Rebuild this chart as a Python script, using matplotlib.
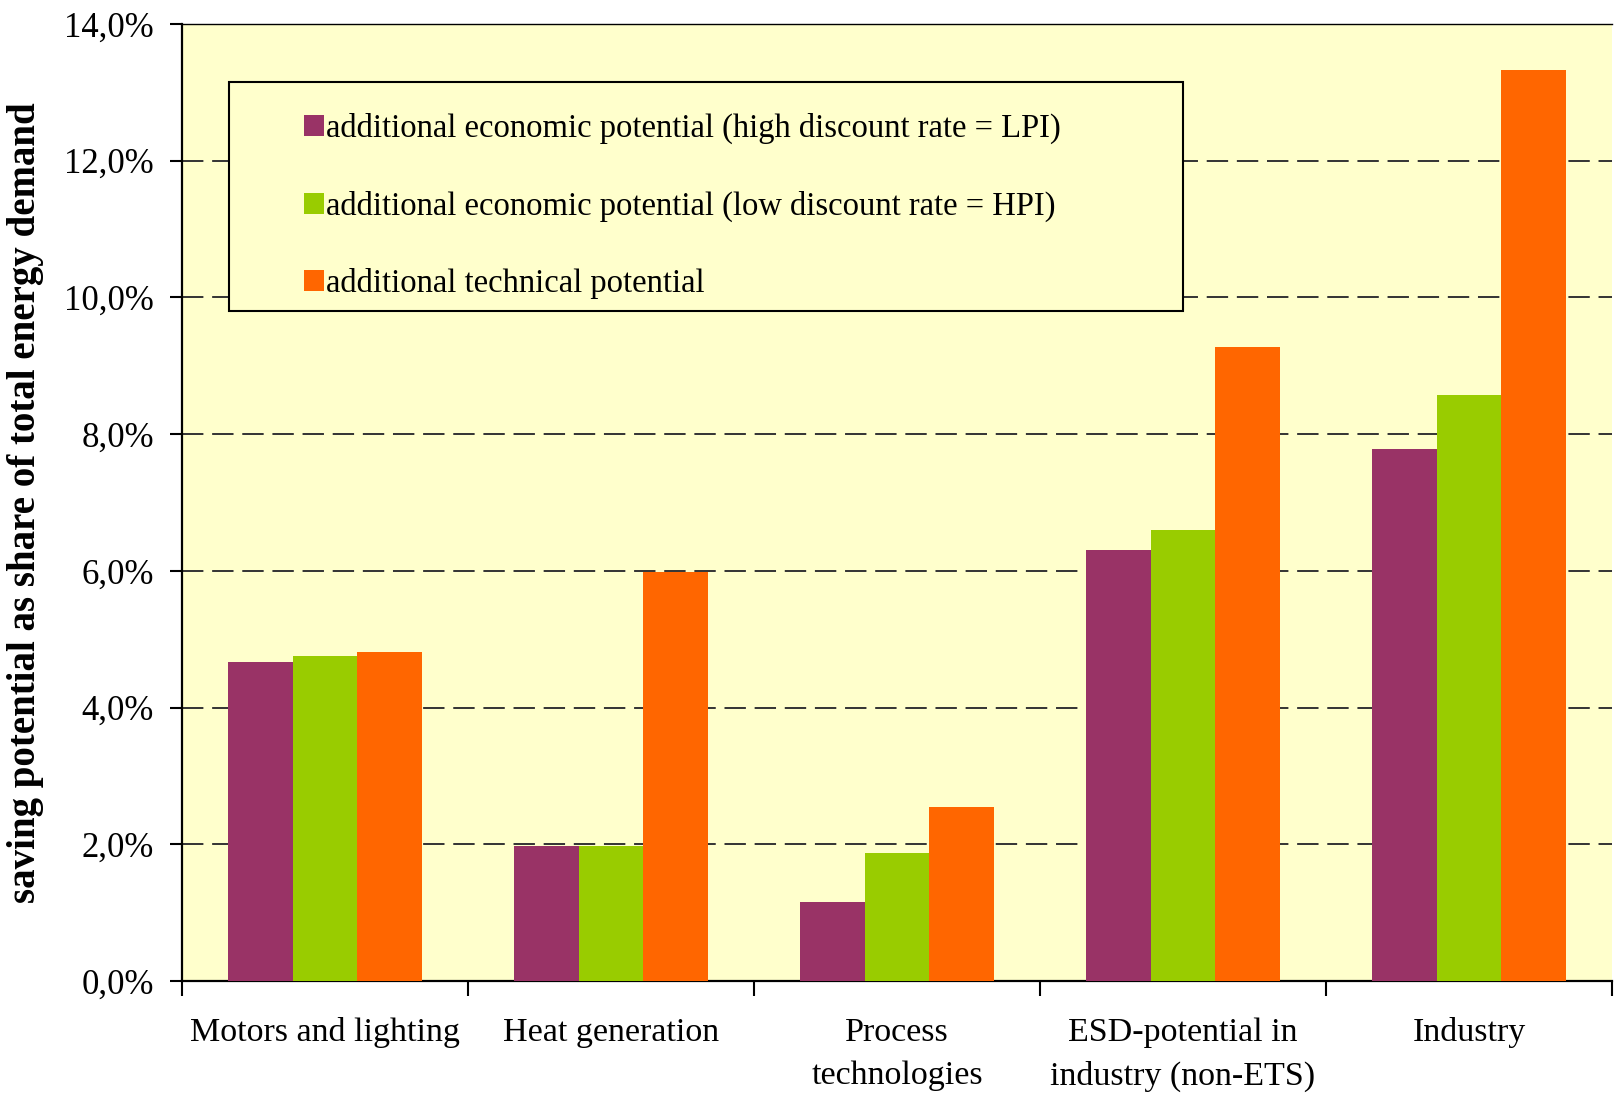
import matplotlib
matplotlib.use("Agg")
import matplotlib.pyplot as plt
from matplotlib.patches import Rectangle
import numpy as np

plt.rcParams['font.family'] = ['Liberation Serif', 'DejaVu Serif']

categories = ["Motors and lighting", "Heat generation", "Process\ntechnologies",
              "ESD-potential in\nindustry (non-ETS)", "Industry"]
series_names = ["additional economic potential (high discount rate = LPI)",
                "additional economic potential (low discount rate = HPI)",
                "additional technical potential"]
lpi = [4.67, 1.98, 1.16, 6.30, 7.78]
hpi = [4.75, 1.97, 1.87, 6.60, 8.57]
technical = [4.82, 5.99, 2.55, 9.27, 13.32]
yticks = [0, 2, 4, 6, 8, 10, 12, 14]

colors = ["#993366", "#99CC00", "#FF6600"]

fig = plt.figure(figsize=(16.14, 10.94), dpi=100)
ax = fig.add_axes([182 / 1614, 1 - 981 / 1094, 1430 / 1614, 957 / 1094])
ax.set_facecolor("#FFFFCC")

x = np.arange(len(categories))
w = 0.225
handles = []
for i, (vals, c) in enumerate(zip([lpi, hpi, technical], colors)):
    b = ax.bar(x + (i - 1) * w, vals, width=w, color=c, zorder=3)
    handles.append(b)

ax.set_xlim(-0.5, len(categories) - 0.5)
ax.set_ylim(0, 14)

# y axis: comma decimals, dashed grid
ax.set_yticks(yticks)
ax.set_yticklabels([f"{v:.1f}%".replace(".", ",") for v in yticks], fontsize=25)
for v in yticks[1:-1]:
    ax.axhline(v, color="#333333", lw=1.4, ls=(0, (11, 4.5)), zorder=1)
ax.tick_params(axis="y", direction="out", length=9, width=1.5, pad=11)

# x axis: ticks between groups, labels at group centres
ax.set_xticks(np.arange(-0.5, len(categories)))
ax.set_xticklabels([])
ax.set_xticks(x, minor=True)
ax.set_xticklabels(categories, minor=True, fontsize=24.5, linespacing=1.55, va="top")
ax.tick_params(axis="x", which="major", direction="out", length=11, width=1.5)
ax.tick_params(axis="x", which="minor", length=0, pad=26)

for s in ["left", "bottom"]:
    ax.spines[s].set_linewidth(1.6)
ax.spines["top"].set_linewidth(1.0)
ax.spines["right"].set_visible(False)

ax.set_ylabel("saving potential as share of total energy demand", fontsize=28,
              fontweight="bold")
ax.yaxis.set_label_coords(-0.0965, 0.5)

# legend box with the entries inside it
ax.add_patch(Rectangle((0.033, 0.700), 0.667, 0.239, transform=ax.transAxes,
                       facecolor="#FFFFCC", edgecolor="black", lw=1.5, zorder=5))
ax.legend(handles, series_names, loc="upper left", bbox_to_anchor=(0.0853, 0.907),
          frameon=False, fontsize=23.5, borderpad=0, borderaxespad=0,
          handlelength=0.62, handleheight=0.62, handletextpad=0.05,
          labelspacing=1.42).set_zorder(6)

fig.savefig("out.png", dpi=100)
